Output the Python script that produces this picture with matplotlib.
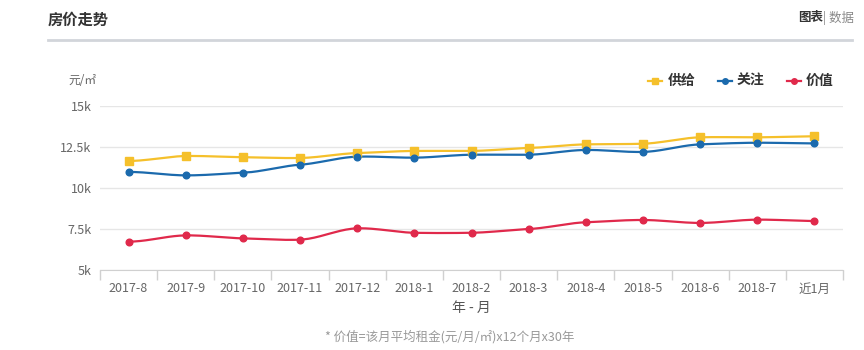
import numpy as np
import matplotlib
matplotlib.use("Agg")
import matplotlib.pyplot as plt
from matplotlib.lines import Line2D

plt.rcParams['font.family'] = ['Noto Sans CJK SC', 'DejaVu Sans']

categories = ["2017-8", "2017-9", "2017-10", "2017-11", "2017-12", "2018-1", "2018-2",
              "2018-3", "2018-4", "2018-5", "2018-6", "2018-7", "近1月"]
supply = [11650, 11950, 11880, 11830, 12130, 12260, 12260, 12440, 12660, 12700, 13090, 13090, 13150]
attention = [10980, 10770, 10930, 11420, 11910, 11850, 12030, 12030, 12320, 12200, 12660, 12760, 12720]
value = [6730, 7110, 6930, 6850, 7540, 7270, 7270, 7500, 7910, 8050, 7870, 8070, 7990]
series_names = ["供给", "关注", "价值"]
yticks = [5000, 7500, 10000, 12500, 15000]
ytick_labels = ["5k", "7.5k", "10k", "12.5k", "15k"]

colors = ["#f5c02b", "#1b6aad", "#e0294b"]
markers = ["s", "o", "o"]


def spline(xs, ys, n=20):
    """Highcharts-like smooth curve through the points (cubic Hermite, Catmull-Rom tangents)."""
    xs = np.asarray(xs, float)
    ys = np.asarray(ys, float)
    m = np.zeros_like(ys)
    for i in range(1, len(ys) - 1):
        m[i] = (ys[i + 1] - ys[i - 1]) / (xs[i + 1] - xs[i - 1]) * 0.5
    ox, oy = [], []
    for i in range(len(ys) - 1):
        h = xs[i + 1] - xs[i]
        t = np.linspace(0, 1, n, endpoint=False)
        h00 = 2 * t**3 - 3 * t**2 + 1
        h10 = t**3 - 2 * t**2 + t
        h01 = -2 * t**3 + 3 * t**2
        h11 = t**3 - t**2
        ox.extend(xs[i] + t * h)
        oy.extend(h00 * ys[i] + h10 * h * m[i] + h01 * ys[i + 1] + h11 * h * m[i + 1])
    ox.append(xs[-1])
    oy.append(ys[-1])
    return np.array(ox), np.array(oy)


W, H = 864, 350
fig = plt.figure(figsize=(W / 100, H / 100), dpi=100)
fig.patch.set_facecolor("white")

ax = fig.add_axes([100 / W, (H - 270) / H, (843 - 100) / W, (270 - 106) / H])
x = np.arange(len(categories))
for data, c, mk in zip([supply, attention, value], colors, markers):
    sx, sy = spline(x, data)
    ax.plot(sx, sy, color=c, lw=1.6, zorder=3, solid_capstyle="round")
    ax.plot(x, data, linestyle="none", marker=mk, color=c,
            markersize=5.2 if mk == "s" else 4.8, zorder=4)

ax.set_xlim(-0.5, len(categories) - 0.5)
ax.set_ylim(5000, 15000)
ax.set_yticks(yticks)
ax.set_yticklabels(ytick_labels, fontsize=9, color="#666666")
ax.set_xticks(x)
ax.set_xticklabels(categories, fontsize=9, color="#666666")
ax.tick_params(axis="x", length=0, pad=9)
ax.tick_params(axis="y", length=0, pad=6)
ax.set_xticks(np.arange(-0.5, len(categories), 1), minor=True)
ax.tick_params(axis="x", which="minor", length=7, color="#d0d0d0", width=1)
ax.grid(axis="y", color="#e6e6e6", lw=1)
ax.set_axisbelow(True)
for s in ["top", "right", "left"]:
    ax.spines[s].set_visible(False)
ax.spines["bottom"].set_color("#d0d0d0")

ax.set_xlabel("年 - 月", fontsize=10, color="#555555", labelpad=4)

# Header
fig.text(48 / W, 1 - 20 / H, "房价走势", fontsize=11, fontweight="bold", color="#333333",
         va="center", ha="left")
fig.add_artist(Line2D([48 / W, 852 / W], [1 - 40 / H, 1 - 40 / H], color="#d2d5da", lw=2))
fig.text(823 / W, 1 - 18 / H, "图表", fontsize=9, fontweight="bold", color="#333333",
         va="center", ha="right")
fig.text(823 / W, 1 - 18 / H, "| 数据", fontsize=9, color="#888888", va="center", ha="left")

fig.text(68 / W, 1 - 80 / H, "元/㎡", fontsize=8.5, color="#666666", va="center", ha="left")

# Legend
leg_items = [(648, 668), (718, 737), (787, 806)]
for (lx, tx), c, mk, name in zip(leg_items, colors, markers, series_names):
    fig.add_artist(Line2D([lx / W, (lx + 14) / W], [1 - 81 / H, 1 - 81 / H], color=c, lw=1.6))
    fig.add_artist(Line2D([(lx + 7) / W], [1 - 81 / H], marker=mk, color=c,
                          markersize=4.5 if mk == "s" else 4, linestyle="none"))
    fig.text(tx / W, 1 - 81 / H, name, fontsize=10, fontweight="bold", color="#333333",
             va="center", ha="left")

fig.text(450 / W, 1 - 337 / H, "* 价值=该月平均租金(元/月/㎡)x12个月x30年", fontsize=9,
         color="#999999", va="center", ha="center")

fig.savefig("out.png", dpi=100, facecolor="white")
